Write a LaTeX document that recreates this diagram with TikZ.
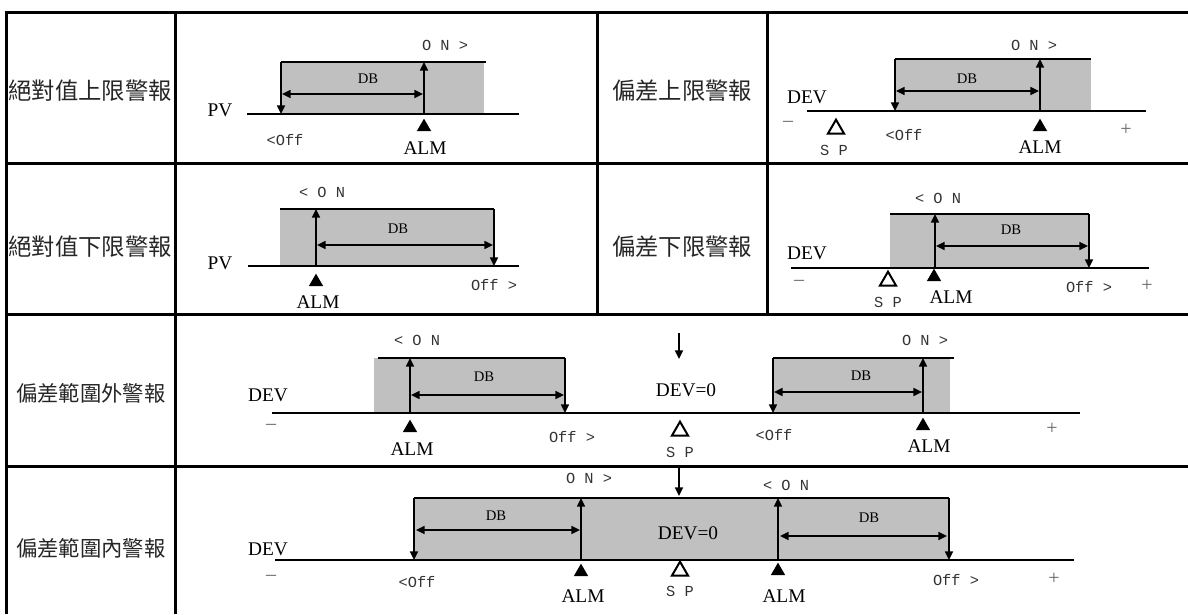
\documentclass[tikz,border=0pt]{standalone}
\usepackage{fontspec}
\setmainfont{Liberation Serif}
\newfontfamily\cjkfont{Noto Sans CJK TC}
\newfontfamily\monofont{Liberation Mono}
\usepackage{tikz}
\usetikzlibrary{arrows.meta}
\usetikzlibrary{shapes.geometric}
\usetikzlibrary{positioning}

\definecolor{bandgray}{RGB}{192,192,192}

\tikzset{
  rule/.style={line width=2.25pt},
  axisline/.style={line width=1.3pt},
  edgeline/.style={line width=1.3pt},
  sig/.style={line width=1.2pt, -{Triangle[length=6.5pt,width=6pt]}},
  dbspan/.style={line width=1.2pt, {Triangle[length=6.5pt,width=6pt]}-{Triangle[length=6.5pt,width=6pt]}},
  band/.style={fill=bandgray},
  title/.style={font=\cjkfont\fontsize{17.5}{17.5}\selectfont, inner sep=0pt, text=black!85},
  titlesm/.style={font=\cjkfont\fontsize{16}{16}\selectfont, inner sep=0pt, text=black!85},
  vartxt/.style={font=\fontsize{14.5}{14.5}\selectfont, inner sep=0pt},
  dbtxt/.style={font=\fontsize{11}{11}\selectfont, inner sep=0pt},
  statetxt/.style={font=\monofont\fontsize{11.5}{11.5}\selectfont, inner sep=0pt, text=black!80},
  signtxt/.style={font=\fontsize{15}{15}\selectfont, inner sep=0pt, text=black!60},
  almtri/.style={regular polygon, regular polygon sides=3, fill=black, inner sep=0pt, minimum size=12.5pt},
  sptri/.style={regular polygon, regular polygon sides=3, draw, line width=1.5pt, inner sep=0pt, minimum size=14pt},
}

\begin{document}
\begin{tikzpicture}[x=0.75pt, y=-0.75pt]
    \useasboundingbox (0,0) rectangle (1188,614);

    % table
    \draw[rule] (4.5,12.5) -- (1188,12.5);
    \draw[rule] (4.5,163) -- (1188,163);
    \draw[rule] (4.5,314.5) -- (1188,314.5);
    \draw[rule] (4.5,466) -- (1188,466);
    \draw[rule] (6,11) -- (6,614);
    \draw[rule] (175,11) -- (175,614);
    \draw[rule] (597,11) -- (597,315.5);
    \draw[rule] (767,11) -- (767,315.5);

    \node[title] (t1) at (90,91) {絕對值上限警報};
    \node[title] (t2) at (682,91) {偏差上限警報};
    \node[title] (t3) at (90,247) {絕對值下限警報};
    \node[title] (t4) at (682,247) {偏差下限警報};
    \node[titlesm] (t5) at (91,393) {偏差範圍外警報};
    \node[titlesm] (t6) at (91,548) {偏差範圍內警報};

    % absolute high
    \coordinate (a0) at (247,114);  \coordinate (a1) at (519,114);
    \coordinate (atl) at (281,62);  \coordinate (abl) at (281,114);
    \coordinate (atr) at (486,62);  \coordinate (abr) at (484,114);
    \coordinate (aont) at (424,62); \coordinate (aonb) at (424,114);
    \fill[band] (atl) rectangle (abr);
    \draw[axisline] (a0) -- (a1);
    \draw[edgeline] (atl) -- (atr);
    \draw[sig] (atl) -- (abl);
    \draw[sig] (aonb) -- (aont);
    \draw[dbspan] (282,94) coordinate (adb0) -- (423,94) coordinate (adb1);
    \node[vartxt] (pv1) at (220,110) {PV};
    \node[statetxt] (on1) at (445,45) {O N >};
    \node[dbtxt] (db1) at (368,79) {DB};
    \node[statetxt] (off1) at (285,140) {<Off};
    \node[almtri] (alm1t) at (424,127) {};
    \node[vartxt] (alm1) at (425,148) {ALM};

    % deviation high
    \coordinate (b0) at (807,111);  \coordinate (b1) at (1146,111);
    \coordinate (btl) at (895,59);  \coordinate (bbl) at (895,111);
    \coordinate (btr) at (1091,59); \coordinate (bbr) at (1091,111);
    \coordinate (bont) at (1040,59); \coordinate (bonb) at (1040,111);
    \fill[band] (btl) rectangle (bbr);
    \draw[axisline] (b0) -- (b1);
    \draw[edgeline] (btl) -- (btr);
    \draw[sig] (btl) -- (bbl);
    \draw[sig] (bonb) -- (bont);
    \draw[dbspan] (896,91) coordinate (bdb0) -- (1039,91) coordinate (bdb1);
    \node[vartxt] (dev2) at (807,97) {DEV};
    \node[statetxt] (on2) at (1034,45) {O N >};
    \node[dbtxt] (db2) at (967,79) {DB};
    \node[statetxt] (off2) at (904,135) {<Off};
    \node[signtxt] (mi2) at (788,124) {–};
    \node[signtxt] (pl2) at (1126,130) {+};
    \node[sptri] (sp2t) at (836,129) {};
    \node[statetxt] (sp2) at (834,150) {S P};
    \node[almtri] (alm2t) at (1040,127) {};
    \node[vartxt] (alm2) at (1040,147) {ALM};

    % absolute low
    \coordinate (c0) at (248,266);  \coordinate (c1) at (519,266);
    \coordinate (ctl) at (280,209); \coordinate (cbl) at (280,266);
    \coordinate (ctr) at (494,209); \coordinate (cbr) at (494,266);
    \coordinate (cont) at (316,209); \coordinate (conb) at (316,266);
    \fill[band] (ctl) rectangle (cbr);
    \draw[axisline] (c0) -- (c1);
    \draw[edgeline] (ctl) -- (ctr);
    \draw[sig] (ctr) -- (cbr);
    \draw[sig] (conb) -- (cont);
    \draw[dbspan] (317,245) coordinate (cdb0) -- (493,245) coordinate (cdb1);
    \node[vartxt] (pv3) at (220,263) {PV};
    \node[statetxt] (on3) at (322,192) {< O N};
    \node[dbtxt] (db3) at (398,229) {DB};
    \node[statetxt] (off3) at (494,285) {Off >};
    \node[almtri] (alm3t) at (316,282) {};
    \node[vartxt] (alm3) at (318,302) {ALM};

    % deviation low
    \coordinate (d0) at (791,268);  \coordinate (d1) at (1149,268);
    \coordinate (dtl) at (890,214); \coordinate (dbl) at (890,268);
    \coordinate (dtr) at (1089,214); \coordinate (dbr) at (1089,268);
    \coordinate (dont) at (935,214); \coordinate (donb) at (935,268);
    \fill[band] (dtl) rectangle (dbr);
    \draw[axisline] (d0) -- (d1);
    \draw[edgeline] (dtl) -- (dtr);
    \draw[sig] (dtr) -- (dbr);
    \draw[sig] (donb) -- (dont);
    \draw[dbspan] (936,246) coordinate (ddb0) -- (1088,246) coordinate (ddb1);
    \node[vartxt] (dev4) at (807,253) {DEV};
    \node[statetxt] (on4) at (938,198) {< O N};
    \node[dbtxt] (db4) at (1011,230) {DB};
    \node[statetxt] (off4) at (1089,287) {Off >};
    \node[signtxt] (mi4) at (799,283) {–};
    \node[signtxt] (pl4) at (1147,286) {+};
    \node[sptri] (sp4t) at (888,281) {};
    \node[statetxt] (sp4) at (888,302) {S P};
    \node[almtri] (alm4t) at (934,277) {};
    \node[vartxt] (alm4) at (951,297) {ALM};

    % outside band
    \coordinate (e0) at (272,413);  \coordinate (e1) at (1080,413);
    \coordinate (eltl) at (374,358); \coordinate (eltt) at (378,358);
    \coordinate (eltr) at (565,358); \coordinate (elbr) at (565,413);
    \coordinate (elont) at (410,358); \coordinate (elonb) at (410,413);
    \coordinate (ertl) at (773,358); \coordinate (erbl) at (773,413);
    \coordinate (ertr) at (954,358); \coordinate (erbr) at (950,413);
    \coordinate (eront) at (923,358); \coordinate (eronb) at (923,413);
    \coordinate (ez0) at (679,333);  \coordinate (ez1) at (679,359);
    \fill[band] (eltl) rectangle (elbr);
    \fill[band] (ertl) rectangle (erbr);
    \draw[axisline] (e0) -- (e1);
    \draw[edgeline] (eltt) -- (eltr);
    \draw[edgeline] (ertl) -- (ertr);
    \draw[sig] (eltr) -- (elbr);
    \draw[sig] (elonb) -- (elont);
    \draw[sig] (ertl) -- (erbl);
    \draw[sig] (eronb) -- (eront);
    \draw[sig] (ez0) -- (ez1);
    \draw[dbspan] (411,395) coordinate (edb0) -- (564,395) coordinate (edb1);
    \draw[dbspan] (774,392) coordinate (edb2) -- (922,392) coordinate (edb3);
    \node[vartxt] (dev5) at (268,395) {DEV};
    \node[vartxt] (zero5) at (686,390) {DEV=0};
    \node[statetxt] (on5a) at (417,340) {< O N};
    \node[statetxt] (on5b) at (925,340) {O N >};
    \node[dbtxt] (db5a) at (484,377) {DB};
    \node[dbtxt] (db5b) at (861,376) {DB};
    \node[statetxt] (off5a) at (572,437) {Off >};
    \node[statetxt] (off5b) at (774,435) {<Off};
    \node[signtxt] (mi5) at (271,427) {–};
    \node[signtxt] (pl5) at (1052,429) {+};
    \node[sptri] (sp5t) at (680,431) {};
    \node[statetxt] (sp5) at (680,452) {S P};
    \node[almtri] (alm5at) at (410,428) {};
    \node[vartxt] (alm5a) at (412,449) {ALM};
    \node[almtri] (alm5bt) at (923,426) {};
    \node[vartxt] (alm5b) at (929,446) {ALM};

    % inside band
    \coordinate (f0) at (275,560);  \coordinate (f1) at (1074,560);
    \coordinate (ftl) at (414,498); \coordinate (fbl) at (414,560);
    \coordinate (ftr) at (949,498); \coordinate (fbr) at (949,560);
    \coordinate (falont) at (581,498); \coordinate (falonb) at (581,560);
    \coordinate (fbront) at (778,498); \coordinate (fbronb) at (778,560);
    \coordinate (fz0) at (679,467);  \coordinate (fz1) at (679,496);
    \fill[band] (ftl) rectangle (fbr);
    \draw[axisline] (f0) -- (f1);
    \draw[edgeline] (ftl) -- (ftr);
    \draw[sig] (ftl) -- (fbl);
    \draw[sig] (ftr) -- (fbr);
    \draw[sig] (falonb) -- (falont);
    \draw[sig] (fbronb) -- (fbront);
    \draw[sig] (fz0) -- (fz1);
    \draw[dbspan] (416,530) coordinate (fdb0) -- (580,530) coordinate (fdb1);
    \draw[dbspan] (780,536) coordinate (fdb2) -- (947,536) coordinate (fdb3);
    \node[vartxt] (dev6) at (268,549) {DEV};
    \node[vartxt] (zero6) at (688,533) {DEV=0};
    \node[statetxt] (on6a) at (589,478) {O N >};
    \node[statetxt] (on6b) at (786,485) {< O N};
    \node[dbtxt] (db6a) at (496,516) {DB};
    \node[dbtxt] (db6b) at (869,518) {DB};
    \node[statetxt] (off6a) at (417,582) {<Off};
    \node[statetxt] (off6b) at (956,580) {Off >};
    \node[signtxt] (mi6) at (271,578) {–};
    \node[signtxt] (pl6) at (1054,579) {+};
    \node[sptri] (sp6t) at (680,571) {};
    \node[statetxt] (sp6) at (680,591) {S P};
    \node[almtri] (alm6at) at (581,572) {};
    \node[vartxt] (alm6a) at (583,596) {ALM};
    \node[almtri] (alm6bt) at (778,571) {};
    \node[vartxt] (alm6b) at (784,596) {ALM};
\end{tikzpicture}
\end{document}
